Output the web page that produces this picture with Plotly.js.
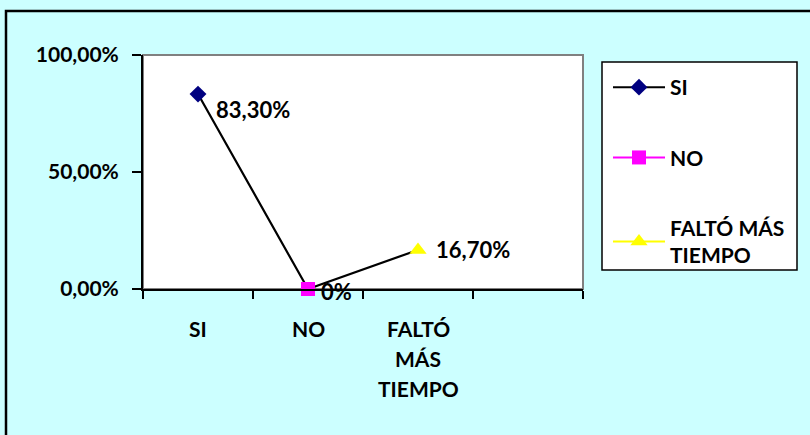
<!DOCTYPE html>
<html><head><meta charset="utf-8">
<script src="https://cdn.plot.ly/plotly-3.0.1.min.js"></script>
<style>html,body{margin:0;padding:0;background:#CCFFFF;} #chart{width:810px;height:435px;}</style>
</head><body><div id="chart"></div>
<script>
// ---- data ----
const categories = ['SI', 'NO', 'FALTÓ MÁS TIEMPO', ''];
const categoryLabelLines = [['SI'], ['NO'], ['FALTÓ', 'MÁS', 'TIEMPO'], []];
const seriesNames = ['SI', 'NO', 'FALTÓ MÁS<br>TIEMPO'];
const values = [0.833, 0.0, 0.167];
const valueLabels = ['83,30%', '0%', '16,70%'];
const yTickVals = [0, 0.5, 1];

// ---- styles ----
const seriesLineColors = ['#000000', '#FF00FF', '#FFFF00'];
const markerColors = ['#000080', '#FF00FF', '#FFFF00'];
const markerSymbols = ['diamond', 'square', 'triangle-up'];
const markerSizes = [13, 14, 15];
const labelShift = [[17, -15], [12, -2], [17, 0]];
const FONT = 'Lato, "Open Sans", sans-serif';
const labelFont = {family: FONT, size: 22, color: '#000', weight: 'bold'};

const idx = categories.map((c, i) => i);
const xs = idx.slice(0, values.length);

const traces = [{
  x: xs, y: values, mode: 'lines', type: 'scatter',
  line: {color: '#000000', width: 2.2}, showlegend: false, hoverinfo: 'skip', cliponaxis: false
}];
for (let i = 0; i < values.length; i++) {
  traces.push({
    x: [xs[i]], y: [values[i]], type: 'scatter', mode: 'lines+markers',
    name: seriesNames[i], legendgroup: 'g' + i, cliponaxis: false,
    line: {color: seriesLineColors[i], width: 2},
    marker: {symbol: markerSymbols[i], color: markerColors[i], size: markerSizes[i]}
  });
}

const annotations = [];
values.forEach((v, i) => {
  annotations.push({
    x: xs[i], y: v, xref: 'x', yref: 'y', text: '<b>' + valueLabels[i] + '</b>',
    showarrow: false, xanchor: 'left', yanchor: 'middle', borderpad: 0,
    xshift: labelShift[i][0], yshift: labelShift[i][1], font: labelFont
  });
});
categoryLabelLines.forEach((lines, i) => {
  lines.forEach((t, k) => {
    annotations.push({
      x: idx[i], y: -0.167, xref: 'x', yref: 'paper', text: '<b>' + t + '</b>',
      showarrow: false, xanchor: 'center', yanchor: 'middle', yshift: -30 * k,
      font: {family: FONT, size: 21, color: '#000', weight: 'bold'}
    });
  });
});

const L = 143, T = 55, W = 440, H = 234;
const px = v => (v - L) / W;
const py = v => (T + H - v) / H;

const layout = {
  width: 810, height: 435,
  margin: {l: L, r: 810 - L - W, t: T, b: 435 - T - H, pad: 0},
  paper_bgcolor: '#CCFFFF', plot_bgcolor: '#FFFFFF',
  showlegend: true,
  xaxis: {
    range: [-0.5, categories.length - 0.5], tickvals: categories.map((c, i) => i - 0.5).concat([categories.length - 0.5]),
    showticklabels: false, ticks: 'outside', ticklen: 8, tickwidth: 2, tickcolor: '#000',
    showline: true, linecolor: '#000', linewidth: 2, showgrid: false, zeroline: false, fixedrange: true
  },
  yaxis: {
    range: [0, 1], tickvals: yTickVals, tickformat: '.2%', ticks: 'outside', ticklen: 9, tickwidth: 2, tickcolor: '#000',
    showline: true, linecolor: '#000', linewidth: 2, showgrid: false, zeroline: false, ticklabelstandoff: 9,
    tickfont: {family: FONT, size: 21, color: '#000', weight: 'bold'}, fixedrange: true
  },
  separators: ',.',
  legend: {
    x: px(608), y: py(67), xanchor: 'left', yanchor: 'top', bgcolor: 'rgba(0,0,0,0)', borderwidth: 0,
    itemwidth: 52, tracegroupgap: 40, font: {family: FONT, size: 21, color: '#000', weight: 'bold'}
  },
  annotations: annotations,
  shapes: [
    {type: 'rect', xref: 'paper', yref: 'paper', x0: px(6), x1: px(830), y0: py(11), y1: py(460),
      line: {color: '#000', width: 2.5}, fillcolor: 'rgba(0,0,0,0)', layer: 'below'},
    {type: 'rect', xref: 'paper', yref: 'paper', x0: 0, x1: 1, y0: 0, y1: 1,
      line: {color: '#808080', width: 2}, fillcolor: 'rgba(0,0,0,0)', layer: 'below'},
    {type: 'rect', xref: 'paper', yref: 'paper', x0: px(602), x1: px(797), y0: py(62), y1: py(270),
      line: {color: '#000', width: 1.5}, fillcolor: '#FFFFFF', layer: 'below'}
  ]
};

Plotly.newPlot('chart', traces, layout, {displayModeBar: false, staticPlot: true});
</script>
</body></html>
